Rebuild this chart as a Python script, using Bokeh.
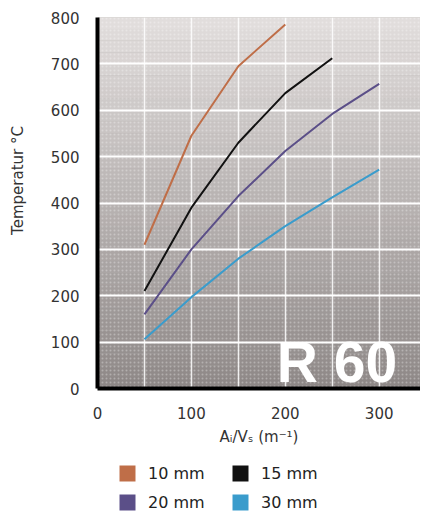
import numpy as np
from bokeh.plotting import figure
from bokeh.layouts import column
from bokeh.models import FixedTicker, BoxAnnotation, Legend, LegendItem, Label, Range1d
from bokeh.embed import file_html
from bokeh.resources import INLINE

# ---- data ----
x_vals = [50, 100, 150, 200, 250, 300]
temp_10mm = [310, 545, 695, 785]
temp_15mm = [210, 390, 530, 637, 712]
temp_20mm = [160, 300, 415, 512, 592, 657]
temp_30mm = [106, 197, 280, 350, 412, 472]
series_labels = ["10 mm", "15 mm", "20 mm", "30 mm"]
series_values = [temp_10mm, temp_15mm, temp_20mm, temp_30mm]
colors = ["#bf6e48", "#111111", "#5b4f88", "#3a9ccc"]
x_ticks = [0, 100, 200, 300]
x_grid = [50, 100, 150, 200, 250, 300]
y_ticks = [0, 100, 200, 300, 400, 500, 600, 700, 800]

FONT = "DejaVu Sans"

p = figure(frame_width=323, frame_height=371, output_backend="svg", toolbar_location=None,
           x_range=Range1d(0, 344), y_range=Range1d(0, 800),
           min_border_left=97, min_border_right=0, min_border_top=17, min_border_bottom=62)
p.outline_line_color = None
p.background_fill_color = "#b5b0ae"

# gradient background bands
n = 32
top = np.array([0xe2, 0xde, 0xdd])
bot = np.array([0x8d, 0x87, 0x86])
for i in range(n):
    t = (i + 0.5) / n
    c = bot * (1 - t) + top * t
    col = "#%02x%02x%02x" % tuple(int(round(v)) for v in c)
    p.add_layout(BoxAnnotation(bottom=800 * i / n, top=800 * (i + 1) / n,
                               fill_color=col, fill_alpha=1.0, line_color=None,
                               hatch_pattern="dot", hatch_color="white",
                               hatch_alpha=0.3, hatch_scale=4, level="image"))

# grid (drawn above the background bands)
p.xgrid.ticker = FixedTicker(ticks=x_grid)
p.ygrid.ticker = FixedTicker(ticks=y_ticks[1:-1])
p.xgrid.grid_line_color = "white"
p.xgrid.grid_line_width = 1.5
p.xgrid.grid_line_alpha = 0.85
p.ygrid.grid_line_color = "white"
p.ygrid.grid_line_width = 2
p.xgrid.level = "underlay"
p.ygrid.level = "underlay"

# axes
for ax, ticks in ((p.xaxis[0], x_ticks), (p.yaxis[0], y_ticks)):
    ax.ticker = FixedTicker(ticks=ticks)
    ax.axis_line_width = 4
    ax.axis_line_color = "black"
    ax.major_tick_line_color = None
    ax.minor_tick_line_color = None
    ax.major_label_text_font = FONT
    ax.major_label_text_font_size = "15px"
    ax.major_label_text_color = "#333333"
    ax.axis_label_text_font = FONT
    ax.axis_label_text_font_style = "normal"
    ax.axis_label_text_font_size = "15px"
    ax.axis_label_text_color = "#333333"
p.xaxis.major_label_standoff = 12
p.yaxis.major_label_standoff = 12
p.xaxis.axis_label = "Aᵢ/Vₛ (m⁻¹)"
p.xaxis.axis_label_standoff = 6
p.yaxis.axis_label = "\u2003\u2003\u2003Temperatur °C"
p.yaxis.axis_label_standoff = 21

# lines
for vals, col in zip(series_values, colors):
    p.line(x_vals[:len(vals)], vals, line_color=col, line_width=2)

# R 60
p.add_layout(Label(x=191, y=58, text="R 60", text_font="Liberation Sans", text_font_size="57px",
                   text_font_style="bold", text_color="white", text_baseline="alphabetic"))

# legend figure below the chart (zero-size proxy rects carry the swatch colours)
lg = figure(width=420, height=63, output_backend="svg", toolbar_location=None,
            x_axis_type=None, y_axis_type=None, min_border=0,
            x_range=Range1d(-1, -0.5), y_range=Range1d(-1, -0.5))
lg.outline_line_color = None
lg.xgrid.visible = False
lg.ygrid.visible = False
swatches = [lg.rect(x=x_vals[:len(vals)], y=vals, width=0, height=0,
                    fill_color=c, line_color=None)
            for vals, c in zip(series_values, colors)]

order = [0, 2, 1, 3]
legend = Legend(items=[LegendItem(label=series_labels[i], renderers=[swatches[i]]) for i in order],
                location=(20, 1), ncols=2, orientation="vertical",
                glyph_width=20, glyph_height=20, label_height=20, label_width=73,
                label_standoff=11, spacing=9, padding=0, margin=0,
                label_text_font=FONT, label_text_font_size="16px", label_text_color="#222222",
                background_fill_alpha=0, border_line_color=None)
lg.add_layout(legend, "center")

layout = column(p, lg, spacing=0)
open("out.html", "w").write(file_html(layout, INLINE))
